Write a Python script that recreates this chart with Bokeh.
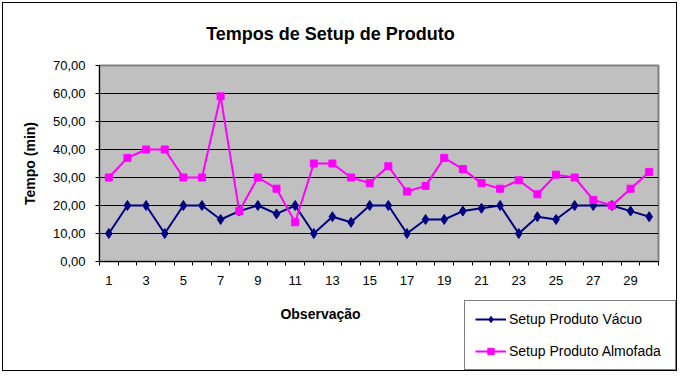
from bokeh.plotting import figure
from bokeh.layouts import column
from bokeh.models import FixedTicker, Legend, LegendItem, Label, Range1d
from bokeh.embed import file_html
from bokeh.resources import INLINE

obs = list(range(1, 31))
vacuo = [10, 20, 20, 10, 20, 20, 15, 18, 20, 17, 20, 10, 16, 14, 20,
         20, 10, 15, 15, 18, 19, 20, 10, 16, 15, 20, 20, 20, 18, 16]
almofada = [30, 37, 40, 40, 30, 30, 59, 18, 30, 26, 14, 35, 35, 30, 28,
            34, 25, 27, 37, 33, 28, 26, 29, 24, 31, 30, 22, 20, 26, 32]
y_ticks = [0, 10, 20, 30, 40, 50, 60, 70]
y_labels = {t: f"{t},00" for t in y_ticks}
x_label_ticks = list(range(1, 31, 2))
x_bounds = [i + 0.5 for i in range(0, 31)]

FONT = "Liberation Sans"
W = 673


def blank(height):
    f = figure(width=W, height=height, output_backend="svg", toolbar_location=None,
               x_axis_location=None, y_axis_location=None,
               min_border_left=0, min_border_right=0, min_border_top=0,
               min_border_bottom=0, x_range=Range1d(0, 1), y_range=Range1d(0, 1),
               frame_align=False)
    f.outline_line_color = None
    f.xgrid.visible = False
    f.ygrid.visible = False
    f.background_fill_color = "white"
    f.border_fill_color = "white"
    return f


# header with title
head = blank(52)
head.add_layout(Label(x=327, y=22, x_units="screen", y_units="screen",
                      text="Tempos de Setup de Produto", text_align="center",
                      text_baseline="middle", text_font=FONT,
                      text_font_style="bold", text_font_size="18px",
                      text_color="black"))

# main chart
p = figure(width=W, height=236, output_backend="svg", toolbar_location=None,
           x_range=Range1d(0.5, 30.5), y_range=Range1d(0, 70),
           min_border_left=96, min_border_right=18, min_border_top=10,
           min_border_bottom=30, frame_align=False)
p.background_fill_color = "#C0C0C0"
p.border_fill_color = "white"
p.outline_line_color = "#808080"
p.outline_line_width = 2

p.xgrid.visible = False
p.ygrid.grid_line_color = "black"
p.ygrid.grid_line_width = 1
p.ygrid.ticker = FixedTicker(ticks=y_ticks)

p.yaxis.ticker = FixedTicker(ticks=y_ticks)
p.yaxis.major_label_overrides = y_labels
p.yaxis.axis_line_color = "black"
p.yaxis.major_tick_in = 0
p.yaxis.major_tick_out = 4
p.yaxis.minor_tick_line_color = None
p.yaxis.major_label_standoff = 10
p.yaxis.major_label_text_font = FONT
p.yaxis.major_label_text_font_size = "13px"
p.yaxis.major_label_text_color = "black"
p.yaxis.axis_label = "Tempo (min)"
p.yaxis.axis_label_text_font = FONT
p.yaxis.axis_label_text_font_style = "bold"
p.yaxis.axis_label_text_font_size = "14px"
p.yaxis.axis_label_text_color = "black"
p.yaxis.axis_label_standoff = 12

p.xaxis.ticker = FixedTicker(ticks=x_label_ticks, minor_ticks=x_bounds)
p.xaxis.axis_line_color = "black"
p.xaxis.major_tick_in = 0
p.xaxis.major_tick_out = 0
p.xaxis.minor_tick_in = 0
p.xaxis.minor_tick_out = 4
p.xaxis.minor_tick_line_color = "black"
p.xaxis.major_label_standoff = 10
p.xaxis.major_label_text_font = FONT
p.xaxis.major_label_text_font_size = "13px"
p.xaxis.major_label_text_color = "black"

p.line(obs, vacuo, line_color="#000080", line_width=2)
p.scatter(obs, vacuo, marker="diamond", size=10, fill_color="#000080",
          line_color="#000080")
p.line(obs, almofada, line_color="#FF00FF", line_width=2)
p.scatter(obs, almofada, marker="square", size=7, fill_color="#FF00FF",
          line_color="#FF00FF")

# bottom strip with axis title and legend
foot = blank(79)
foot.add_layout(Label(x=317, y=57, x_units="screen", y_units="screen",
                      text="Observação", text_align="center",
                      text_baseline="middle", text_font=FONT,
                      text_font_style="bold", text_font_size="14px",
                      text_color="black"))
l1 = foot.line(obs, vacuo, line_color="#000080", line_width=2, visible=False)
m1 = foot.scatter(obs, vacuo, marker="diamond", size=10, fill_color="#000080",
                  line_color="#000080", visible=False)
l2 = foot.line(obs, almofada, line_color="#FF00FF", line_width=2, visible=False)
m2 = foot.scatter(obs, almofada, marker="square", size=7, fill_color="#FF00FF",
                  line_color="#FF00FF", visible=False)

legend = Legend(items=[LegendItem(label="Setup Produto Vácuo", renderers=[l1, m1]),
                       LegendItem(label="Setup Produto Almofada", renderers=[l2, m2])],
                location=(461, 0))
legend.click_policy = "none"
legend.inactive_fill_alpha = 0
legend.padding = 10
legend.spacing = 16
legend.margin = 0
legend.glyph_height = 16
legend.glyph_width = 31
legend.label_height = 16
legend.label_width = 156
legend.label_standoff = 3
legend.label_text_font = FONT
legend.label_text_font_size = "14px"
legend.label_text_color = "black"
legend.border_line_color = "black"
legend.border_line_width = 1
legend.background_fill_color = "white"
legend.background_fill_alpha = 1
foot.add_layout(legend)

layout = column(head, p, foot, spacing=0)
layout.styles = {"border": "1px solid black", "margin-left": "2px", "margin-top": "2px"}

open("out.html", "w").write(file_html(layout, INLINE))
